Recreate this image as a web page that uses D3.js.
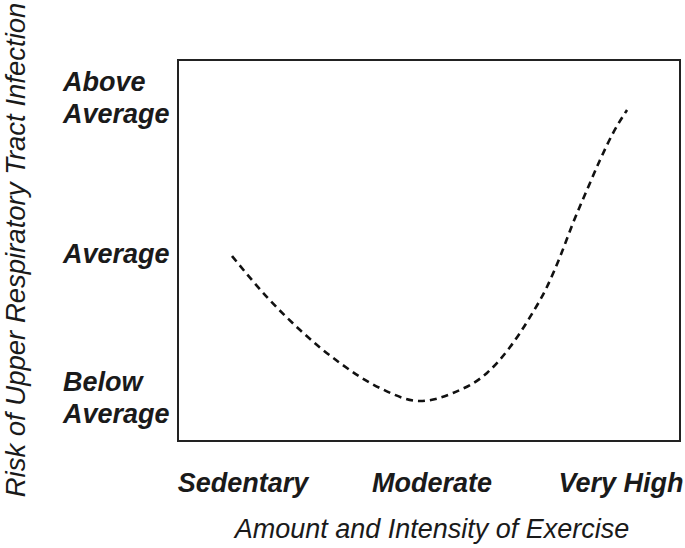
<!DOCTYPE html>
<html>
<head>
<meta charset="utf-8">
<script src="https://cdn.jsdelivr.net/npm/d3@7"></script>
<style>
  body { margin: 0; background: #fff; }
  text { font-family: "Liberation Sans", Arial, sans-serif; fill: #1a1a1a; }
</style>
</head>
<body>
<script>
// categories along the x axis (0, 1, 2)
var exerciseLevels = ["Sedentary", "Moderate", "Very High"];
// risk levels on the y axis (-1, 0, 1), each split on lines
var riskLevels = [-1, 0, 1];
var riskLabels = [["Below", "Average"], ["Average"], ["Above", "Average"]];

// the J-shaped curve (x in exercise units, y in risk units)
var curveX = [-0.058, 0.127, 0.302, 0.513, 0.725, 0.937, 1.111, 1.291, 1.413, 1.519, 1.608, 1.677, 1.746, 1.820, 1.889, 1.958, 2.032];
var curveY = [-0.021, -0.306, -0.535, -0.764, -0.938, -1.028, -0.972, -0.833, -0.653, -0.444, -0.236, -0.028, 0.192, 0.404, 0.596, 0.769, 0.917];

var W = 685, H = 548;
var box = {left: 178, top: 60, right: 680, bottom: 441};

var svg = d3.select("body").append("svg")
    .attr("width", W)
    .attr("height", H);

var x = d3.scaleLinear().domain([0, 2]).range([243, 621]);
// labels are not evenly spaced in the picture, so piecewise
var y = d3.scaleLinear().domain([-1, 0, 1]).range([397, 253, 97]);

// frame
svg.append("rect")
    .attr("x", box.left)
    .attr("y", box.top)
    .attr("width", box.right - box.left)
    .attr("height", box.bottom - box.top)
    .attr("fill", "none")
    .attr("stroke", "#222")
    .attr("stroke-width", 2);

// dashed curve
var pts = curveX.map(function(d, i) { return [d, curveY[i]]; });
var line = d3.line()
    .x(function(d) { return x(d[0]); })
    .y(function(d) { return y(d[1]); })
    .curve(d3.curveMonotoneX);

svg.append("path")
    .datum(pts)
    .attr("d", line)
    .attr("fill", "none")
    .attr("stroke", "#111")
    .attr("stroke-width", 2.6)
    .attr("stroke-dasharray", "7,5");

// y tick labels
var lineGap = 32;
riskLevels.forEach(function(v, i) {
    var lines = riskLabels[i];
    var firstBase = y(v) + 10 - (lines.length - 1) * lineGap / 2;
    var t = svg.append("text")
        .attr("x", 63)
        .attr("font-size", 27)
        .attr("font-weight", "bold")
        .attr("font-style", "italic");
    lines.forEach(function(s, j) {
        t.append("tspan")
            .attr("x", 63)
            .attr("y", firstBase + j * lineGap)
            .text(s);
    });
});

// x tick labels
svg.selectAll(".xlab")
    .data(exerciseLevels)
    .enter()
    .append("text")
    .attr("class", "xlab")
    .attr("x", function(d, i) { return x(i); })
    .attr("y", 492)
    .attr("text-anchor", "middle")
    .attr("font-size", 27)
    .attr("font-weight", "bold")
    .attr("font-style", "italic")
    .text(function(d) { return d; });

// axis titles
svg.append("text")
    .attr("x", x(1))
    .attr("y", 538)
    .attr("text-anchor", "middle")
    .attr("font-size", 27)
    .attr("font-style", "italic")
    .text("Amount and Intensity of Exercise");

svg.append("text")
    .attr("transform", "translate(25,250) rotate(-90)")
    .attr("text-anchor", "middle")
    .attr("font-size", 27.5)
    .attr("font-style", "italic")
    .text("Risk of Upper Respiratory Tract Infection");
</script>
</body>
</html>
